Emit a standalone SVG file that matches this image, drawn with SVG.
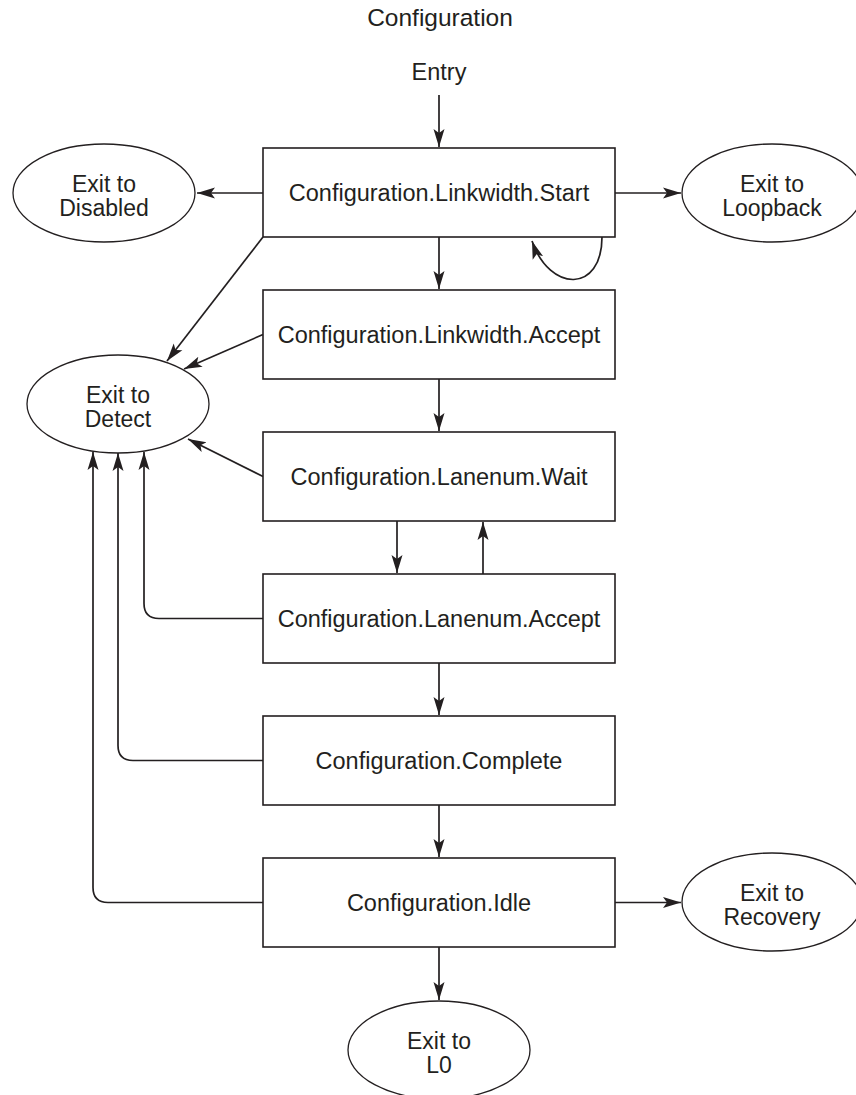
<svg xmlns="http://www.w3.org/2000/svg" width="856" height="1095" viewBox="0 0 856 1095">
<style>
.bg{fill:#ffffff}
.box{fill:#ffffff;stroke:#231f20;stroke-width:1.6}
.ell{fill:#ffffff;stroke:#231f20;stroke-width:1.3}
.t{font-family:"Liberation Sans",Arial,sans-serif;font-size:23.5px;fill:#231f20;text-anchor:middle}
.te{font-family:"Liberation Sans",Arial,sans-serif;font-size:23px;fill:#231f20;text-anchor:middle}
.title{font-family:"Liberation Sans",Arial,sans-serif;font-size:24.5px;fill:#231f20;text-anchor:middle}
.c{fill:none;stroke:#231f20;stroke-width:1.7;marker-end:url(#ah)}
</style>
<defs>
<marker id="ah" markerUnits="userSpaceOnUse" markerWidth="20" markerHeight="14" refX="18" refY="6" orient="auto" viewBox="0 0 20 12">
<path d="M18,6 L0,0.5 L4,6 L0,11.5 Z" fill="#231f20"/>
</marker>
</defs>
<rect class="bg" x="0" y="0" width="856" height="1095"/>
<text class="title" x="440" y="26">Configuration</text>
<text class="t" x="439" y="80" id="entry">Entry</text>

<g id="connectors">
<path class="c" d="M439,95 L439,147"/>
<path class="c" d="M263,193 L197,193"/>
<path class="c" d="M615,193 L681,193"/>
<path class="c" d="M602,237 C602,293 550,293 532,241"/>
<path class="c" d="M439,237 L439,289"/>
<path class="c" d="M263,237 L167,361"/>
<path class="c" d="M263,334.5 L184,369"/>
<path class="c" d="M439,379 L439,431"/>
<path class="c" d="M263,476.5 L188,439"/>
<path class="c" d="M397,521 L397,573"/>
<path class="c" d="M483,574 L483,522"/>
<path class="c" d="M263,618.5 L159,618.5 Q144,618.5 144,603.5 L144,452"/>
<path class="c" d="M439,663 L439,715"/>
<path class="c" d="M263,760.5 L133,760.5 Q118,760.5 118,745.5 L118,453"/>
<path class="c" d="M439,805 L439,857"/>
<path class="c" d="M263,902.5 L108,902.5 Q93,902.5 93,887.5 L93,452"/>
<path class="c" d="M615,902.5 L681,902.5"/>
<path class="c" d="M439,947 L439,1000"/>
</g>

<g id="start"><rect class="box" x="263" y="148" width="352" height="89"/><text class="t" x="439" y="201">Configuration.Linkwidth.Start</text></g>
<g id="lwaccept"><rect class="box" x="263" y="290" width="352" height="89"/><text class="t" x="439" y="343">Configuration.Linkwidth.Accept</text></g>
<g id="lnwait"><rect class="box" x="263" y="432" width="352" height="89"/><text class="t" x="439" y="485">Configuration.Lanenum.Wait</text></g>
<g id="lnaccept"><rect class="box" x="263" y="574" width="352" height="89"/><text class="t" x="439" y="627">Configuration.Lanenum.Accept</text></g>
<g id="complete"><rect class="box" x="263" y="716" width="352" height="89"/><text class="t" x="439" y="769">Configuration.Complete</text></g>
<g id="idle"><rect class="box" x="263" y="858" width="352" height="89"/><text class="t" x="439" y="911">Configuration.Idle</text></g>

<g id="disabled"><ellipse class="ell" cx="104" cy="193" rx="91" ry="49"/><text class="te" x="104" y="192">Exit to</text><text class="te" x="104" y="216">Disabled</text></g>
<g id="loopback"><ellipse class="ell" cx="772" cy="193" rx="90" ry="49"/><text class="te" x="772" y="192">Exit to</text><text class="te" x="772" y="216">Loopback</text></g>
<g id="detect"><ellipse class="ell" cx="118" cy="404" rx="91" ry="49"/><text class="te" x="118" y="403">Exit to</text><text class="te" x="118" y="427">Detect</text></g>
<g id="recovery"><ellipse class="ell" cx="772" cy="902" rx="90" ry="49"/><text class="te" x="772" y="901">Exit to</text><text class="te" x="772" y="925">Recovery</text></g>
<g id="l0"><ellipse class="ell" cx="439" cy="1050" rx="91" ry="49"/><text class="te" x="439" y="1049">Exit to</text><text class="te" x="439" y="1073">L0</text></g>
</svg>
